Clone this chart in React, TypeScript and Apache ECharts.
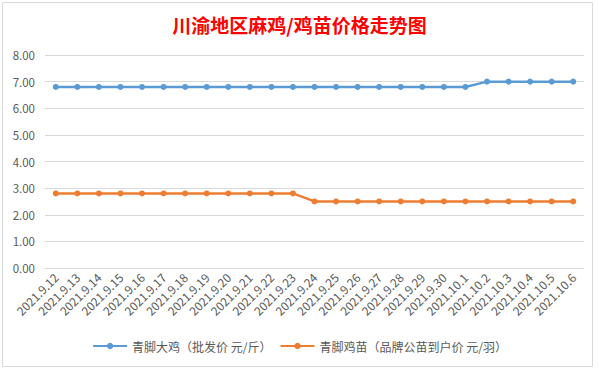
import React, { useEffect, useRef } from "react";
import * as echarts from "echarts";

const categories = [
  "2021.9.12", "2021.9.13", "2021.9.14", "2021.9.15", "2021.9.16", "2021.9.17",
  "2021.9.18", "2021.9.19", "2021.9.20", "2021.9.21", "2021.9.22", "2021.9.23",
  "2021.9.24", "2021.9.25", "2021.9.26", "2021.9.27", "2021.9.28", "2021.9.29",
  "2021.9.30", "2021.10.1", "2021.10.2", "2021.10.3", "2021.10.4", "2021.10.5",
  "2021.10.6",
];

const chickenPrice = [
  6.8, 6.8, 6.8, 6.8, 6.8, 6.8, 6.8, 6.8, 6.8, 6.8, 6.8, 6.8, 6.8, 6.8, 6.8,
  6.8, 6.8, 6.8, 6.8, 6.8, 7.0, 7.0, 7.0, 7.0, 7.0,
];

const chickPrice = [
  2.8, 2.8, 2.8, 2.8, 2.8, 2.8, 2.8, 2.8, 2.8, 2.8, 2.8, 2.8, 2.5, 2.5, 2.5,
  2.5, 2.5, 2.5, 2.5, 2.5, 2.5, 2.5, 2.5, 2.5, 2.5,
];

const seriesNames = ["青脚大鸡（批发价 元/斤）", "青脚鸡苗（品牌公苗到户价 元/羽）"];
const titleText = "川渝地区麻鸡/鸡苗价格走势图";

export default function App() {
  const ref = useRef<HTMLDivElement>(null);
  useEffect(() => {
    if (!ref.current) return;
    const chart = echarts.init(ref.current, null, { renderer: "svg" });
    const font = "'Noto Sans CJK SC', 'Open Sans', sans-serif";
    chart.setOption({
      animation: false,
      backgroundColor: "#ffffff",
      title: {
        text: titleText,
        left: "center",
        top: 10,
        textStyle: {
          color: "#ff0000",
          fontSize: 19,
          fontWeight: "bold",
          fontFamily: "'Noto Sans CJK SC', serif",
        },
      },
      graphic: [
        {
          type: "rect",
          shape: { x: 2.5, y: 2.5, width: 590, height: 364 },
          style: { fill: "none", stroke: "#d9d9d9", lineWidth: 1 },
          silent: true,
        },
      ],
      legend: {
        bottom: 12,
        left: "center",
        itemWidth: 34,
        itemHeight: 8,
        itemGap: 8,
        textStyle: { color: "#595959", fontSize: 12, fontFamily: font },
        data: seriesNames,
      },
      grid: { left: 45, right: 15, top: 55, bottom: 101, containLabel: false },
      xAxis: {
        type: "category",
        data: categories,
        boundaryGap: true,
        axisLine: { show: true, lineStyle: { color: "#d9d9d9" } },
        axisTick: { show: false },
        axisLabel: {
          interval: 0,
          rotate: 45,
          color: "#595959",
          fontSize: 12,
          margin: 7,
          fontFamily: font,
        },
      },
      yAxis: {
        type: "value",
        min: 0,
        max: 8,
        interval: 1,
        axisLine: { show: false },
        axisTick: { show: false },
        splitLine: { lineStyle: { color: "#d9d9d9" } },
        axisLabel: {
          color: "#595959",
          fontSize: 11.5,
          margin: 10,
          fontFamily: font,
          formatter: (v: number) => v.toFixed(2),
        },
      },
      series: [
        {
          name: seriesNames[0],
          type: "line",
          data: chickenPrice,
          symbol: "circle",
          symbolSize: 6,
          color: "#5b9bd5",
          lineStyle: { width: 2.5, color: "#5b9bd5" },
          itemStyle: { color: "#5b9bd5" },
        },
        {
          name: seriesNames[1],
          type: "line",
          data: chickPrice,
          symbol: "circle",
          symbolSize: 6,
          color: "#ed7d31",
          lineStyle: { width: 2.5, color: "#ed7d31" },
          itemStyle: { color: "#ed7d31" },
        },
      ],
    });
    return () => chart.dispose();
  }, []);
  return (
    <div
      ref={ref}
      style={{ position: "fixed", left: 0, top: 0, width: 599, height: 369 }}
    />
  );
}
